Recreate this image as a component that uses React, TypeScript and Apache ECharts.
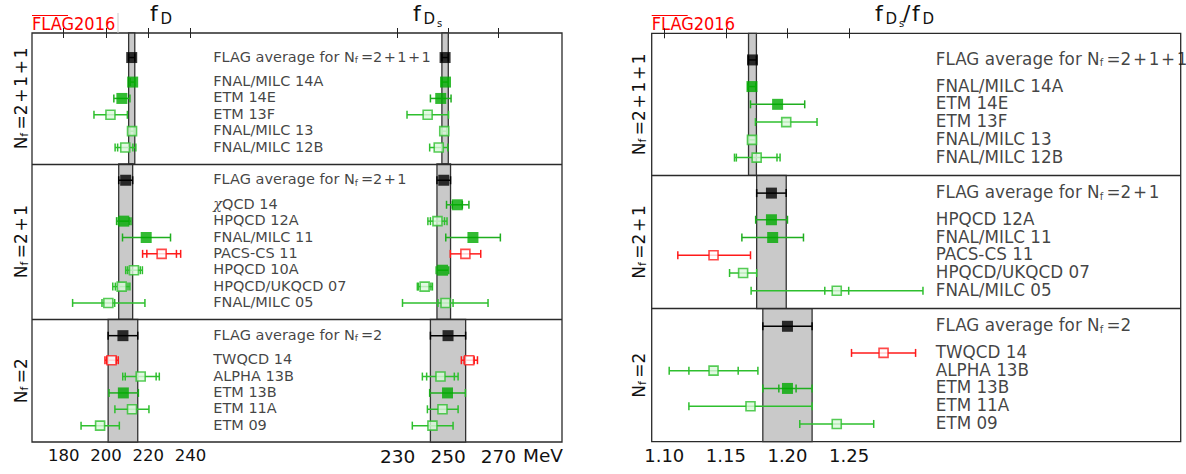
import React, { useEffect, useRef } from "react";
import * as echarts from "echarts";

// ---------------- labels ----------------
const labels4 = ["FNAL/MILC 14A", "ETM 14E", "ETM 13F", "FNAL/MILC 13", "FNAL/MILC 12B"];
const labels3Left = ["{i|χ}QCD 14", "HPQCD 12A", "FNAL/MILC 11", "PACS-CS 11", "HPQCD 10A", "HPQCD/UKQCD 07", "FNAL/MILC 05"];
const labels3Right = ["HPQCD 12A", "FNAL/MILC 11", "PACS-CS 11", "HPQCD/UKQCD 07", "FNAL/MILC 05"];
const labels2 = ["TWQCD 14", "ALPHA 13B", "ETM 13B", "ETM 11A", "ETM 09"];
const nfNames = ["2+1+1", "2+1", "2"];

// ---------------- tick labels ----------------
const fDTicks = [180, 200, 220, 240];
const fDsTicks = [230, 250, 270];
const ratioTicks = [1.1, 1.15, 1.2, 1.25];

// ---------------- FLAG averages [value, error] ----------------
const fDAvg = [[212.15, 1.45], [209.3, 3.3], [208, 7]];
const fDsAvg = [[248.83, 1.27], [248.3, 2.7], [250, 7]];
const ratioAvg = [[1.1716, 0.0032], [1.187, 0.012], [1.2, 0.02]];

// ---------------- results [value, err-, err+, inner err (0 = none)] ----------------
// Nf = 2+1+1
const fD4 = [[212.6, 1.2, 1.0, 0], [207.5, 3.8, 3.8, 0], [202.1, 7.8, 8.0, 0], [212.3, 1.0, 1.0, 0], [209.1, 4.8, 5.0, 3.6]];
const fD4Kind = ["full", "full", "open", "open", "open"];
const fDs4 = [[249.0, 1.5, 1.1, 0], [247.1, 4.1, 4.1, 0], [241.9, 8.2, 8.3, 0], [248.5, 1.0, 1.0, 0], [246.3, 3.6, 3.6, 0]];
const fDs4Kind = ["full", "full", "open", "open", "open"];
const ratio4 = [[1.1712, 0.0033, 0.003, 0], [1.192, 0.022, 0.022, 0], [1.199, 0.025, 0.025, 0], [1.1712, 0.0027, 0.0027, 0], [1.175, 0.018, 0.019, 0.0165]];
const ratio4Kind = ["full", "full", "open", "open", "open"];

// Nf = 2+1
const fD3 = [null, [208.4, 3.4, 3.4, 2.6], [219.0, 11.2, 11.5, 0], [226.3, 9, 9, 7], [213.2, 3.9, 4.0, 3.0], [207.4, 4.2, 3.9, 3.0], [201.1, 16.9, 17.3, 3.0]];
const fD3Kind = ["", "full", "full", "red", "open", "open", "open"];
const fDs3 = [[253.7, 4.3, 4.6, 2.0], [245.8, 3.8, 3.8, 2.8], [259.9, 10.8, 10.9, 0], [256.9, 6.0, 6.1, 0], [247.8, 2.5, 2.5, 0], [240.7, 2.9, 3.1, 2.5], [249.0, 17.1, 16.9, 3.0]];
const fDs3Kind = ["full", "open", "full", "red", "full", "open", "open"];
const ratio3 = [[1.187, 0.0128, 0.013, 0], [1.188, 0.025, 0.025, 0], [1.14, 0.029, 0.03, 0], [1.164, 0.011, 0.011, 0], [1.24, 0.0695, 0.07, 0.0097]];
const ratio3Kind = ["full", "full", "red", "open", "open"];

// Nf = 2
const fD2 = [[202.6, 3.1, 3.2, 2.3], [216.4, 8.5, 8.8, 7.3], [208.2, 6.8, 7.1, 0], [212.3, 8.1, 8.0, 0], [197.2, 9.0, 9.1, 0]];
const fD2Kind = ["red", "open", "full", "open", "open"];
const fDs2 = [[258.4, 3.1, 3.3, 2.0], [247.0, 7.2, 7.0, 5.5], [249.8, 7.1, 7.1, 0], [247.8, 6.0, 6.2, 0], [243.8, 8.0, 8.2, 0]];
const fDs2Kind = ["red", "open", "full", "open", "open"];
const ratio2 = [[1.278, 0.026, 0.026, 0], [1.14, 0.036, 0.036, 0.02], [1.2, 0.02, 0.02, 0.007], [1.17, 0.05, 0.05, 0], [1.24, 0.03, 0.03, 0]];
const ratio2Kind = ["red", "open", "full", "open", "open"];

// ---------------- styles ----------------
const FONT = "'DejaVu Sans', 'Liberation Sans', sans-serif";
const KINDS = ["avg", "full", "open", "red"];
const STY: Record<string, any> = {
  avg: { fill: "#000000", stroke: "#000000", bar: "#000000", size: 11, bw: 0 },
  full: { fill: "#00aa00", stroke: "#00aa00", bar: "#1fae1f", size: 11, bw: 0 },
  open: { fill: "#dcf8dc", stroke: "#2ebf2e", bar: "#2ebf2e", size: 9, bw: 1.6 },
  red: { fill: "#ffffff", stroke: "#ff1a1a", bar: "#ff1a1a", size: 9, bw: 1.6 },
};

function layoutRows(counts: number[]) {
  let start = 0;
  const avgRows: number[] = [];
  const entryRows: number[][] = [];
  const bounds: number[][] = [];
  counts.forEach((n, s) => {
    const extra = s === 0 ? 0.5 : 0;
    avgRows.push(start + 1 + extra);
    entryRows.push(Array.from({ length: n }, (_, i) => start + 2.5 + extra + i));
    const end = start + 2.5 + extra + n;
    bounds.push([start, end]);
    start = end;
  });
  return { avgRows, entryRows, bounds, total: start };
}

function buildPanel(avgs: number[][], sections: { vals: (number[] | null)[]; kinds: string[] }[], L: any) {
  const bands: number[][] = [];
  const bars: number[][] = [];
  const markers: any[] = [];
  const mk = (v: number, row: number, kind: string) => {
    const s = STY[kind];
    markers.push({
      value: [v, row],
      symbolSize: s.size,
      itemStyle: { color: s.fill, borderColor: s.stroke, borderWidth: s.bw },
    });
  };
  avgs.forEach((a, i) => {
    const [y0, y1] = L.bounds[i];
    bands.push([a[0] - a[1], a[0] + a[1], y0, y1]);
    bars.push([a[0], L.avgRows[i], a[1], a[1], 0, 0]);
    mk(a[0], L.avgRows[i], "avg");
  });
  sections.forEach((sec, i) => {
    sec.vals.forEach((p, j) => {
      if (!p) return;
      const row = L.entryRows[i][j];
      const kind = sec.kinds[j];
      bars.push([p[0], row, p[1], p[2], p[3], KINDS.indexOf(kind)]);
      mk(p[0], row, kind);
    });
  });
  return { bands, bars, markers };
}

const renderBand = (_p: any, api: any) => {
  const a = api.coord([api.value(0), api.value(2)]);
  const b = api.coord([api.value(1), api.value(3)]);
  return {
    type: "rect",
    shape: { x: a[0], y: a[1], width: b[0] - a[0], height: b[1] - a[1] },
    style: { fill: "#c9c9c9", stroke: "#333333", lineWidth: 1.3 },
  };
};

const renderBars = (_p: any, api: any) => {
  const v = api.value(0), row = api.value(1), lo = api.value(2), hi = api.value(3), inner = api.value(4);
  const s = STY[KINDS[api.value(5)]];
  const st = { stroke: s.bar, lineWidth: 1.5 };
  const a = api.coord([v - lo, row]);
  const b = api.coord([v + hi, row]);
  const cap = 4;
  const capAt = (p: number[]) => ({ type: "line", shape: { x1: p[0], y1: p[1] - cap, x2: p[0], y2: p[1] + cap }, style: st });
  const children: any[] = [
    { type: "line", shape: { x1: a[0], y1: a[1], x2: b[0], y2: b[1] }, style: st },
    capAt(a),
    capAt(b),
  ];
  if (inner > 0) {
    children.push(capAt(api.coord([v - inner, row])));
    children.push(capAt(api.coord([v + inner, row])));
  }
  return { type: "group", children };
};

function panelSeries(panel: any, xi: number, yi: number) {
  return [
    { type: "custom", xAxisIndex: xi, yAxisIndex: yi, renderItem: renderBand, data: panel.bands, encode: { x: [0, 1], y: [2, 3] }, z: 1, silent: true },
    { type: "custom", xAxisIndex: xi, yAxisIndex: yi, renderItem: renderBars, data: panel.bars, encode: { x: 0, y: 1 }, z: 3, silent: true },
    { type: "scatter", xAxisIndex: xi, yAxisIndex: yi, symbol: "rect", data: panel.markers, z: 4, silent: true },
  ];
}

const nfText = (nf: string) => `N{s|f}\u2009=${nf.replace(/\+/g, "\u200A+\u200A")}`;

function labelSeries(L: any, labelsBySection: string[][], xi: number, yi: number, xPos: number, fontSize: number) {
  const data: any[] = [];
  labelsBySection.forEach((labs, i) => {
    data.push({ value: [xPos, L.avgRows[i]], label: { formatter: `FLAG average for ${nfText(nfNames[i])}` } });
    labs.forEach((t, j) => data.push({ value: [xPos, L.entryRows[i][j]], label: { formatter: t } }));
  });
  const dividers = L.bounds.slice(0, -1).map((b: number[]) => ({ yAxis: b[1] }));
  return {
    type: "scatter",
    xAxisIndex: xi,
    yAxisIndex: yi,
    symbolSize: 0,
    data,
    z: 6,
    silent: true,
    label: {
      show: true,
      position: "right",
      distance: 0,
      offset: [0, -1],
      color: "#111",
      fontFamily: FONT,
      fontSize,
      rich: {
        s: { fontSize: Math.round(fontSize * 0.62), fontFamily: FONT, color: "#111", padding: [Math.round(fontSize * 0.45), 0, 0, 0] },
        i: { fontSize, fontFamily: "'DejaVu Serif', serif", fontStyle: "italic", color: "#111" },
      },
    },
    markLine: {
      silent: true,
      symbol: ["none", "none"],
      label: { show: false },
      lineStyle: { color: "#2a2a2a", width: 1.3, type: "solid" },
      data: dividers,
    },
  };
}

function valueAxis(grid: number, min: number, max: number, ticks: number[], pos: string, showLabel: boolean, fontSize: number) {
  return {
    type: "value",
    gridIndex: grid,
    position: pos,
    min,
    max,
    axisLine: { show: false },
    splitLine: { show: false },
    axisTick: { show: true, inside: true, length: 5, customValues: ticks, lineStyle: { color: "#222", width: 1 } },
    axisLabel: {
      show: showLabel,
      customValues: ticks,
      fontFamily: FONT,
      fontSize,
      color: "#111",
      margin: 5,
      formatter: (v: number) => (v < 10 ? v.toFixed(2) : String(v)),
    },
  };
}

const hiddenAxis = (grid: number, min: number, max: number, inverse = false) => ({
  type: "value", gridIndex: grid, min, max, inverse, show: false, splitLine: { show: false },
});

function titleGroup(parts: [string, number, number, number][]) {
  return parts.map(([t, x, y, fs]) => ({
    type: "text",
    x,
    y,
    style: { text: t, fontFamily: FONT, fontSize: fs, fill: "#111", verticalAlign: "middle", align: "left" },
  }));
}

function flagLogo(x: number) {
  return [
    { type: "text", x, y: 23, style: { text: "FLAG2016", fontFamily: "'DejaVu Sans Condensed', 'DejaVu Sans', sans-serif", fontSize: 18, fill: "#ff0000", verticalAlign: "middle", align: "left" } },
    { type: "line", shape: { x1: x, y1: 15.5, x2: x + 36, y2: 15.5 }, style: { stroke: "#ff0000", lineWidth: 1.2 } },
  ];
}

function nfTitle(x: number, y: number, txt: string) {
  return {
    type: "text",
    x,
    y,
    rotation: Math.PI / 2,
    style: {
      text: nfText(txt),
      fontFamily: FONT,
      fontSize: 17,
      fill: "#111",
      align: "center",
      verticalAlign: "middle",
      rich: { s: { fontSize: 11, fontFamily: FONT, fill: "#111", padding: [7, 0, 0, 0] } },
    },
  };
}

export default function App() {
  const ref = useRef<HTMLDivElement>(null);
  useEffect(() => {
    document.body.style.margin = "0";
    if (!ref.current) return;
    const chart = echarts.init(ref.current, undefined, { renderer: "svg" });

    const LL = layoutRows([labels4.length, labels3Left.length, labels2.length]);
    const LR = layoutRows([labels4.length, labels3Right.length, labels2.length]);

    const pD = buildPanel(fDAvg, [{ vals: fD4, kinds: fD4Kind }, { vals: fD3, kinds: fD3Kind }, { vals: fD2, kinds: fD2Kind }], LL);
    const pDs = buildPanel(fDsAvg, [{ vals: fDs4, kinds: fDs4Kind }, { vals: fDs3, kinds: fDs3Kind }, { vals: fDs2, kinds: fDs2Kind }], LL);
    const pR = buildPanel(ratioAvg, [{ vals: ratio4, kinds: ratio4Kind }, { vals: ratio3, kinds: ratio3Kind }, { vals: ratio2, kinds: ratio2Kind }], LR);

    const frame = { show: true, borderColor: "#2a2a2a", borderWidth: 1.3, backgroundColor: "transparent" };
    const option: any = {
      animation: false,
      grid: [
        { left: 32, top: 33, width: 530, height: 409, ...frame, z: 0 },
        { left: 32, top: 33, width: 252.5, height: 409 },
        { left: 284.5, top: 33, width: 277.5, height: 409 },
        { left: 651.7, top: 33.3, width: 529, height: 408.4, ...frame },
        { left: 651.7, top: 33.3, width: 529, height: 408.4 },
      ],
      xAxis: [
        hiddenAxis(0, 0, 1),
        valueAxis(1, 165, 284.4, fDTicks, "bottom", true, 16.5),
        valueAxis(1, 165, 284.4, fDTicks, "top", false, 16.5),
        valueAxis(2, 185, 295.3, fDsTicks, "bottom", true, 18.5),
        valueAxis(2, 185, 295.3, fDsTicks, "top", false, 18.5),
        valueAxis(3, 1.0898, 1.5192, ratioTicks, "bottom", true, 18),
        valueAxis(3, 1.0898, 1.5192, ratioTicks, "top", false, 18),
        hiddenAxis(4, 0, 1),
      ],
      yAxis: [
        hiddenAxis(0, 0, LL.total, true),
        hiddenAxis(1, 0, LL.total, true),
        hiddenAxis(2, 0, LL.total, true),
        hiddenAxis(3, 0, LR.total, true),
        hiddenAxis(4, 0, LR.total, true),
      ],
      series: [
        ...panelSeries(pD, 1, 1),
        ...panelSeries(pDs, 3, 2),
        ...panelSeries(pR, 5, 3),
        labelSeries(LL, [labels4, labels3Left, labels2], 0, 0, 0.342, 14.5),
        labelSeries(LR, [labels4, labels3Right, labels2], 7, 4, 0.537, 16.8),
      ],
      graphic: [
        ...flagLogo(32),
        ...flagLogo(651.7),
        { type: "line", shape: { x1: 118, y1: 13, x2: 118, y2: 33 }, style: { stroke: "#cccccc", lineWidth: 1 } },
        ...titleGroup([
          ["f", 150, 13, 22], ["D", 160.5, 19, 15],
          ["f", 413, 13, 22], ["D", 423.5, 19, 15], ["s", 437, 23, 10],
          ["f", 875, 13, 22], ["D", 885.5, 19, 15], ["s", 899, 23, 10], ["/", 903, 13, 22], ["f", 912, 13, 22], ["D", 922.5, 19, 15],
        ]),
        { type: "text", x: 523, y: 455, style: { text: "MeV", fontFamily: FONT, fontSize: 18.5, fill: "#111", verticalAlign: "middle", align: "left" } },
        nfTitle(21, 98.4, nfNames[0]),
        nfTitle(21, 241.6, nfNames[1]),
        nfTitle(21, 380.7, nfNames[2]),
        nfTitle(639, 104.3, nfNames[0]),
        nfTitle(639, 242, nfNames[1]),
        nfTitle(639, 375.2, nfNames[2]),
      ],
    };
    chart.setOption(option);
    return () => chart.dispose();
  }, []);
  return <div ref={ref} style={{ width: 1186, height: 474 }} />;
}
